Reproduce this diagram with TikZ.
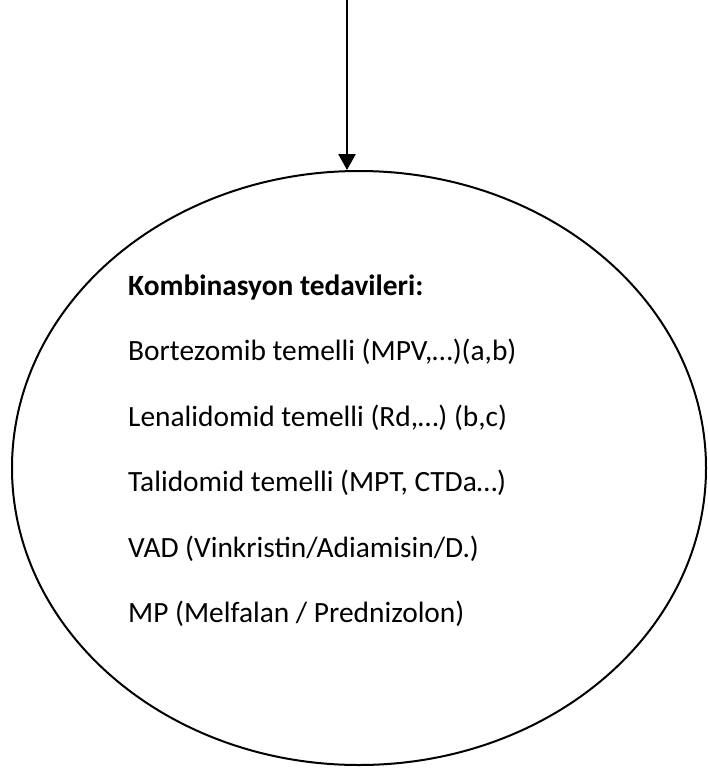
\documentclass[tikz,border=0pt]{standalone}
\usepackage{fontspec}
\setmainfont{Carlito}
\usetikzlibrary{shapes.geometric,arrows.meta}
\begin{document}
\begin{tikzpicture}[x=1pt,y=-1pt,
  oval/.style={draw=black,line width=2pt,ellipse,minimum width=694pt,minimum height=594pt,inner sep=0pt},
  item/.style={anchor=base west,inner sep=0pt,font=\fontsize{29.4}{29.4}\selectfont},
  arrowline/.style={draw=black,line width=2.5pt,-{Triangle[width=17pt,length=16pt]}}]
\useasboundingbox (0,0) rectangle (707,771);
\node[oval] (ell) at (359,468) {};
\coordinate (src) at (347,0);
\draw[arrowline] (src) -- (ell.north -| src);
\node[item] (t0) at (128,295) {\bfseries Kombinasyon tedavileri:};
\node[item] (t1) at (128,360.5) {Bortezomib temelli (MPV,…)(a,b)};
\node[item] (t2) at (128,426) {Lenalidomid temelli (Rd,…) (b,c)};
\node[item] (t3) at (128,491.5) {Talidomid temelli (MPT, CTDa…)};
\node[item] (t4) at (128,557) {VAD (Vinkristin/Adiamisin/D.)};
\node[item] (t5) at (128,622.5) {MP (Melfalan / Prednizolon)};
\end{tikzpicture}
\end{document}
